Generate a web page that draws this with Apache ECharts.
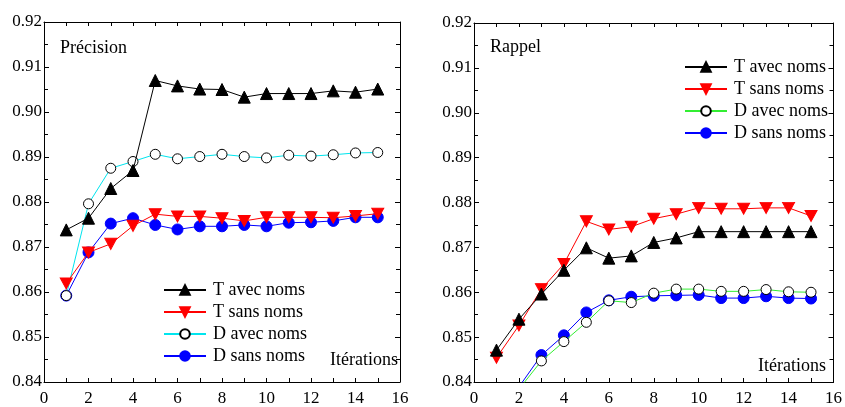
<!DOCTYPE html>
<html>
<head>
<meta charset="utf-8">
<script src="https://cdn.jsdelivr.net/npm/echarts@6/dist/echarts.min.js"></script>
<style>
  html, body { margin: 0; padding: 0; background: #fff; }
  #chart { width: 845px; height: 407px; }
</style>
</head>
<body>
<div id="chart"></div>
<script>
  // itérations 1..15
  const iterations = [1, 2, 3, 4, 5, 6, 7, 8, 9, 10, 11, 12, 13, 14, 15]
  const seriesNames = ['T avec noms', 'T sans noms', 'D avec noms', 'D sans noms']

  // Précision (panneau gauche)
  const precTAvec = [0.8738, 0.8764, 0.8830, 0.8870, 0.9070, 0.9058, 0.9051, 0.9050, 0.9033, 0.9041, 0.9041, 0.9041, 0.9047, 0.9044, 0.9051]
  const precTSans = [0.8619, 0.8688, 0.8707, 0.8747, 0.8773, 0.8768, 0.8768, 0.8764, 0.8758, 0.8766, 0.8766, 0.8766, 0.8765, 0.8769, 0.8774]
  const precDAvec = [0.8592, 0.8796, 0.8875, 0.8890, 0.8906, 0.8896, 0.8901, 0.8906, 0.8901, 0.8898, 0.8904, 0.8902, 0.8905, 0.8909, 0.8910]
  const precDSans = [0.8592, 0.8688, 0.8752, 0.8764, 0.8749, 0.8739, 0.8746, 0.8746, 0.8749, 0.8746, 0.8754, 0.8755, 0.8758, 0.8766, 0.8766]

  // Rappel (panneau droit)
  const rapTAvec = [0.8471, 0.8540, 0.8596, 0.8649, 0.8699, 0.8676, 0.8681, 0.8711, 0.8721, 0.8735, 0.8735, 0.8735, 0.8735, 0.8735, 0.8735]
  const rapTSans = [0.8454, 0.8526, 0.8607, 0.8663, 0.8758, 0.8740, 0.8746, 0.8764, 0.8774, 0.8788, 0.8786, 0.8786, 0.8788, 0.8788, 0.8770]
  const rapDAvec = [0.8310, 0.8384, 0.8447, 0.8490, 0.8533, 0.8581, 0.8577, 0.8598, 0.8607, 0.8607, 0.8602, 0.8602, 0.8606, 0.8601, 0.8600]
  const rapDSans = [0.8320, 0.8389, 0.8460, 0.8504, 0.8555, 0.8582, 0.8590, 0.8592, 0.8593, 0.8594, 0.8587, 0.8587, 0.8591, 0.8587, 0.8586]

  const yMin = 0.84
  const yMax = 0.92
  const xMin = 0
  const xMax = 16

  const serif = 'Liberation Serif'
  const downTriangle = 'path://M0,0 L10,0 L5,9 Z'

  const chart = echarts.init(document.getElementById('chart'))

  function pairs (ys) {
    return ys.map((v, i) => [iterations[i], v])
  }

  function xAx (grid, pos, labels) {
    return {
      type: 'value', gridIndex: grid, position: pos, min: xMin, max: xMax, interval: 2,
      axisLine: { show: true, onZero: false, lineStyle: { color: '#000', width: 1 } },
      axisTick: { show: true, inside: true, length: 4, lineStyle: { color: '#000' } },
      minorTick: { show: true, splitNumber: 2, length: 4, lineStyle: { color: '#000' } },
      axisLabel: { show: labels, color: '#000', fontFamily: serif, fontSize: 17, margin: 8 },
      splitLine: { show: false }
    }
  }

  function yAx (grid, pos, labels) {
    return {
      type: 'value', gridIndex: grid, position: pos, min: yMin, max: yMax, interval: 0.01,
      axisLine: { show: true, onZero: false, lineStyle: { color: '#000', width: 1 } },
      axisTick: { show: true, inside: true, length: 5, lineStyle: { color: '#000' } },
      minorTick: { show: true, splitNumber: 2, length: 4, lineStyle: { color: '#000' } },
      axisLabel: {
        show: labels, color: '#000', fontFamily: serif, fontSize: 17, margin: 2,
        formatter: v => v.toFixed(2)
      },
      splitLine: { show: false }
    }
  }

  function mkSeries (prefix, grid, data, colors) {
    const styles = [
      { symbol: 'triangle', size: 12, fill: '#000', stroke: '#000' },
      { symbol: downTriangle, size: [12, 11], fill: '#ff0000', stroke: '#ff0000' },
      { symbol: 'circle', size: 10, fill: '#fff', stroke: '#000' },
      { symbol: 'circle', size: 11, fill: '#0000ff', stroke: '#0000ff' }
    ]
    return data.map((d, k) => ({
      name: prefix + seriesNames[k],
      type: 'line',
      xAxisIndex: grid * 2,
      yAxisIndex: grid * 2,
      data: pairs(d),
      symbol: styles[k].symbol,
      symbolSize: styles[k].size,
      showAllSymbol: true,
      clip: true,
      lineStyle: { color: colors[k], width: 1 },
      itemStyle: { color: styles[k].fill, borderColor: styles[k].stroke, borderWidth: 1 },
      emphasis: { disabled: true },
      animation: false,
      z: 10 - k
    }))
  }

  const legendBase = {
    orient: 'vertical',
    padding: 0,
    itemWidth: 42,
    itemHeight: 12,
    itemGap: 4,
    selectedMode: false,
    textStyle: { color: '#000', fontFamily: serif, fontSize: 18, lineHeight: 14, padding: [0, 0, 0, 2] },
    formatter: n => n.slice(2)
  }

  chart.setOption({
    animation: false,
    backgroundColor: '#fff',
    grid: [
      { left: 44, top: 22, width: 356, height: 361 },
      { left: 474, top: 23, width: 362, height: 364 }
    ],
    xAxis: [xAx(0, 'bottom', true), xAx(0, 'top', false), xAx(1, 'bottom', true), xAx(1, 'top', false)],
    yAxis: [yAx(0, 'left', true), yAx(0, 'right', false), yAx(1, 'left', true), yAx(1, 'right', false)],
    legend: [
      Object.assign({}, legendBase, { left: 163, top: 281, data: seriesNames.map(n => 'P:' + n) }),
      Object.assign({}, legendBase, { left: 684, top: 58, data: seriesNames.map(n => 'R:' + n) })
    ],
    graphic: [
      { type: 'text', left: 60, top: 39, style: { text: 'Précision', font: '18px "Liberation Serif"', fill: '#000' } },
      { type: 'text', left: 490, top: 38, style: { text: 'Rappel', font: '18px "Liberation Serif"', fill: '#000' } },
      { type: 'text', left: 330, top: 351, style: { text: 'Itérations', font: '18px "Liberation Serif"', fill: '#000' } },
      { type: 'text', left: 758, top: 357, style: { text: 'Itérations', font: '18px "Liberation Serif"', fill: '#000' } }
    ],
    series: [].concat(
      mkSeries('P:', 0, [precTAvec, precTSans, precDAvec, precDSans], ['#000', '#ff0000', '#00e5ee', '#0000ff']),
      mkSeries('R:', 1, [rapTAvec, rapTSans, rapDAvec, rapDSans], ['#000', '#ff0000', '#33ee33', '#0000ff'])
    )
  })
</script>
</body>
</html>
